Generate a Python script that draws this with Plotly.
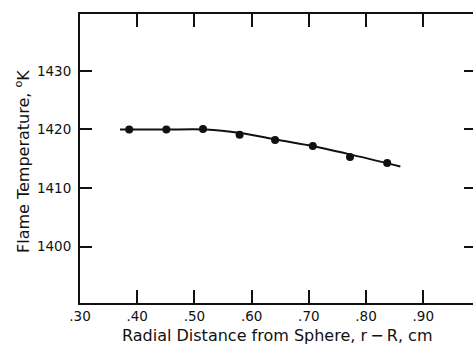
import plotly.graph_objects as go

# Measured flame temperatures
r_minus_R = [0.386, 0.451, 0.515, 0.579, 0.641, 0.707, 0.772, 0.837]
temperature = [1420.0, 1420.0, 1420.1, 1419.1, 1418.2, 1417.2, 1415.3, 1414.3]

# Smoothed curve through the data
curve_x = [0.37, 0.45, 0.52, 0.58, 0.64, 0.70, 0.77, 0.86]
curve_y = [1420.0, 1420.0, 1420.0, 1419.4, 1418.35, 1417.3, 1415.8, 1413.7]

x_ticks = [0.30, 0.40, 0.50, 0.60, 0.70, 0.80, 0.90]
x_tick_text = [".30", ".40", ".50", ".60", ".70", ".80", ".90"]
y_ticks = [1400, 1410, 1420, 1430]
y_tick_text = ["1400", "1410", "1420", "1430"]

FONT = "DejaVu Sans"
INK = "#111111"

fig = go.Figure()
fig.add_trace(go.Scatter(
    x=curve_x, y=curve_y, mode="lines",
    line=dict(color=INK, width=2, shape="spline", smoothing=0.8),
    hoverinfo="skip", showlegend=False,
))
fig.add_trace(go.Scatter(
    x=r_minus_R, y=temperature, mode="markers",
    marker=dict(color=INK, size=8, line=dict(width=0)),
    showlegend=False,
))
# right-hand tick marks (frame edge itself lies past the visible area)
fig.add_trace(go.Scatter(x=[0.5], y=[1420], yaxis="y2", mode="markers",
                         marker=dict(opacity=0), hoverinfo="skip",
                         showlegend=False))

y_range = [1390.4, 1439.7]

fig.update_layout(
    width=473, height=346,
    margin=dict(l=80, r=0, t=14, b=43),
    paper_bgcolor="white", plot_bgcolor="white",
    font=dict(family=FONT, color=INK, size=13),
    xaxis=dict(
        range=[0.30, 0.987], tickvals=x_ticks, ticktext=x_tick_text,
        ticks="inside", ticklen=13, tickwidth=1.5, tickcolor=INK,
        showline=True, linewidth=2, linecolor=INK, mirror="ticks",
        showgrid=False, zeroline=False, tickfont=dict(size=13.5),
    ),
    yaxis=dict(
        range=y_range, tickvals=y_ticks, ticktext=y_tick_text,
        ticks="inside", ticklen=12, tickwidth=1.5, tickcolor=INK,
        showline=True, linewidth=2, linecolor=INK,
        showgrid=False, zeroline=False, tickfont=dict(size=13.5),
        ticklabelstandoff=4,
    ),
    yaxis2=dict(
        range=y_range, tickvals=y_ticks, overlaying="y", side="right",
        ticks="inside", ticklen=9, tickwidth=1.5, tickcolor=INK,
        showline=False, showticklabels=False, showgrid=False, zeroline=False,
    ),
    annotations=[
        dict(text="Radial Distance from Sphere, r\u2009\u2212\u2009R, cm",
             x=0.5, y=-0.113, xref="paper", yref="paper",
             xanchor="center", yanchor="middle", showarrow=False,
             font=dict(size=16, family=FONT, color=INK)),
        dict(text="Flame Temperature, <sup>o</sup>K",
             x=-0.146, y=0.49, xref="paper", yref="paper", textangle=-90,
             xanchor="center", yanchor="middle", showarrow=False,
             font=dict(size=16, family=FONT, color=INK)),
    ],
)

fig.write_html("out.html")
